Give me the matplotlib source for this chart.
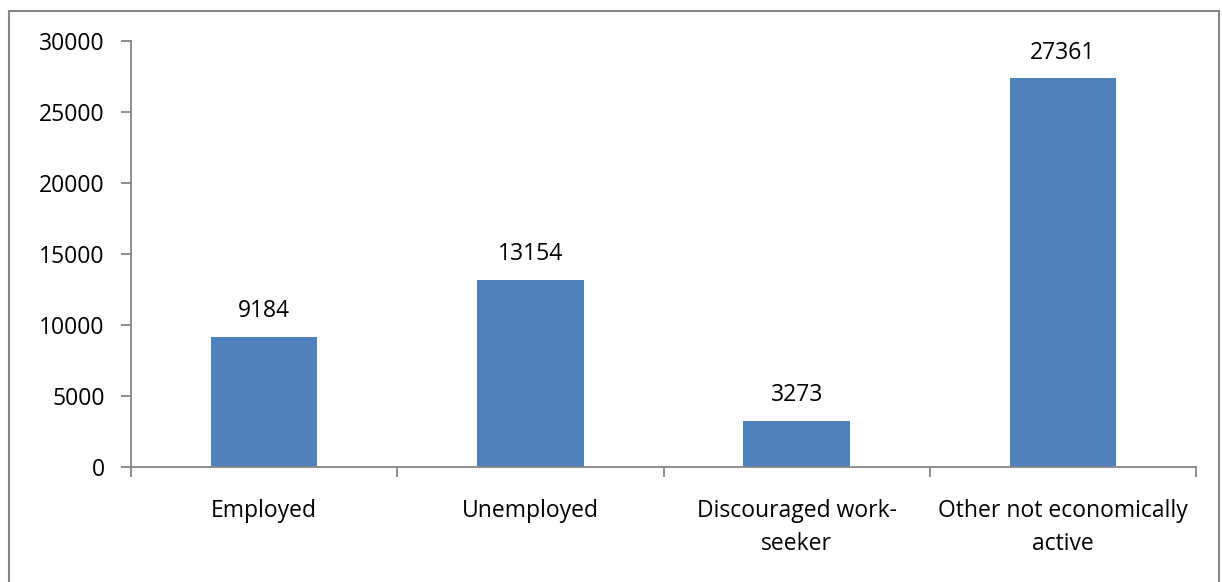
import matplotlib
matplotlib.use("Agg")
import matplotlib.pyplot as plt
from matplotlib.patches import Rectangle

categories = ["Employed", "Unemployed", "Discouraged work-\nseeker", "Other not economically\nactive"]
values = [9184, 13154, 3273, 27361]
yticks = [0, 5000, 10000, 15000, 20000, 25000, 30000]

plt.rcParams['font.family'] = ['Open Sans', 'DejaVu Sans']
fig = plt.figure(figsize=(12.22, 5.82), dpi=100)
ax = fig.add_axes([131/1222, 1-467/582, (1196-131)/1222, (467-41)/582])

x = list(range(len(categories)))
bars = ax.bar(x, values, width=0.40, color="#4F81BD", zorder=2)
for xi, v in zip(x, values):
    ax.annotate(str(v), (xi, v), xytext=(0, 10), textcoords="offset points",
                ha="center", va="bottom", fontsize=16.5)

ax.set_xlim(-0.5, len(categories) - 0.5)
ax.set_ylim(0, 30000)
ax.set_yticks(yticks)
ax.set_yticklabels([str(t) for t in yticks], fontsize=16.5)
ax.set_xticks([i - 0.5 for i in range(len(categories) + 1)])
ax.set_xticklabels([])
ax.set_xticks(x, minor=True)
ax.set_xticklabels(categories, minor=True, fontsize=16.5, ha="center", linespacing=1.5)
ax.tick_params(axis="x", which="minor", length=0, pad=23)
ax.tick_params(axis="x", which="major", length=7, width=1.3, color="#868686", direction="out")
ax.tick_params(axis="y", length=7, width=1.3, color="#868686", direction="out", pad=12)
for s in ["top", "right"]:
    ax.spines[s].set_visible(False)
for s in ["left", "bottom"]:
    ax.spines[s].set_color("#868686")
    ax.spines[s].set_linewidth(1.3)

fig.patches.append(Rectangle((9/1222, -0.1), (1219-9)/1222, 1.1 - 11/582, transform=fig.transFigure,
                             fill=False, edgecolor="#868686", linewidth=1.5))

fig.savefig("out.png", dpi=100)
